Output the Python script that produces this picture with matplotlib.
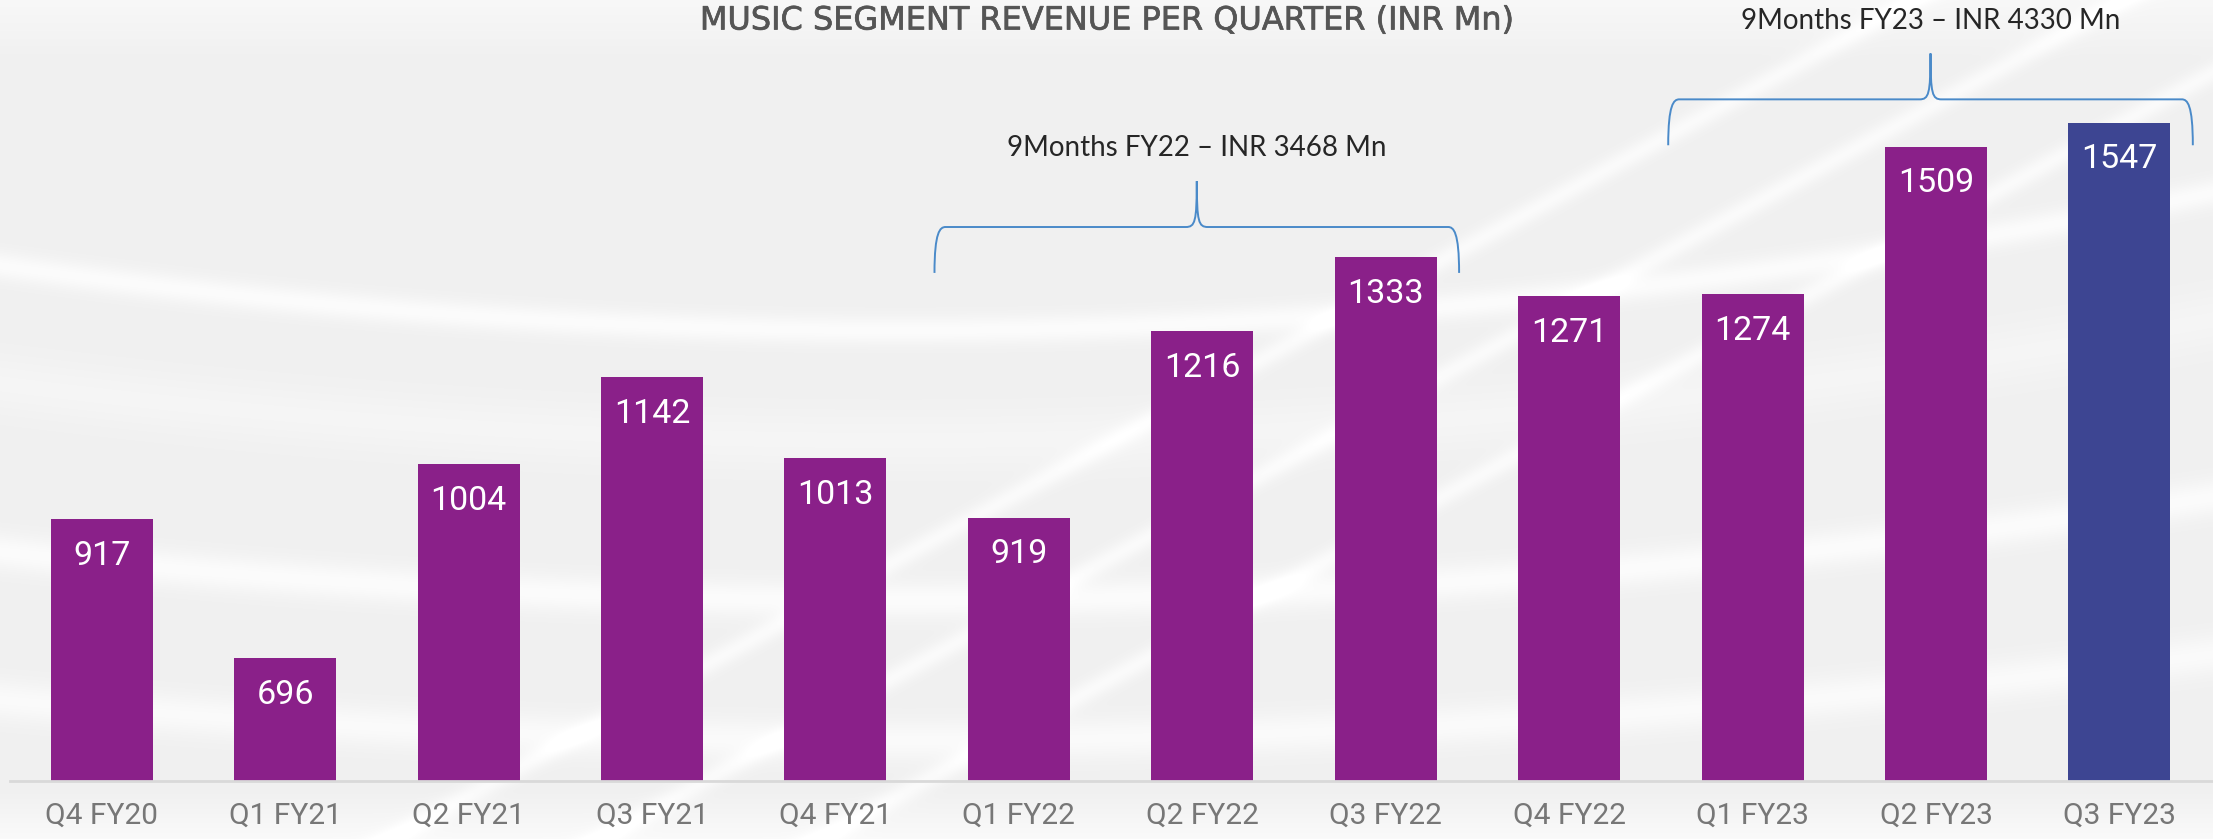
import numpy as np
import matplotlib
matplotlib.use("Agg")
import matplotlib.pyplot as plt
import matplotlib.patheffects as pe
from matplotlib.path import Path
from matplotlib.patches import PathPatch

# data
quarters = ["Q4 FY20", "Q1 FY21", "Q2 FY21", "Q3 FY21", "Q4 FY21", "Q1 FY22",
            "Q2 FY22", "Q3 FY22", "Q4 FY22", "Q1 FY23", "Q2 FY23", "Q3 FY23"]
revenue = [917, 696, 1004, 1142, 1013, 919, 1216, 1333, 1271, 1274, 1509, 1547]
brace_texts = ["9Months FY22 \u2013 INR 3468 Mn", "9Months FY23 \u2013 INR 4330 Mn"]
brace_spans = [(5, 7), (9, 11)]
title = "MUSIC SEGMENT REVENUE PER QUARTER (INR Mn)"

PURPLE = "#8a2089"
NAVY = "#3d4592"
BLUE = "#4a8ac9"

W, H = 2213, 839
fig = plt.figure(figsize=(W / 100, H / 100), dpi=100)

# background: soft light grey with blurred white swooshes (decoration only)
bg = fig.add_axes([0, 0, 1, 1], zorder=-5)
bg.axis("off")
gx, gy = np.meshgrid(np.arange(W), np.arange(H))
light = np.full((H, W), 0.942)
def band(ycurve, width, amp):
    global light
    light = light + amp * np.exp(-((gy - ycurve) / width) ** 2)
band(330 - 8e-5 * (gx - 900) ** 2, 14, 0.045)
band(600 - 6e-5 * (gx - 900) ** 2, 18, 0.045)
band(740 - 5e-5 * (gx - 900) ** 2, 20, 0.04)
band(440 - 7e-5 * (gx - 900) ** 2, 30, 0.02)
for x0 in (1550, 1760, 1980):
    band(200 - 0.55 * (gx - x0), 12, 0.04)
light = light + 0.04 * np.clip((gy - 790) / 49, 0, 1)
light = light + 0.03 * np.clip((60 - gy) / 60, 0, 1)
light = np.clip(light, 0, 1)
bg.imshow(np.dstack([light] * 3), aspect="auto", extent=(0, W, H, 0))
bg.set_xlim(0, W)
bg.set_ylim(H, 0)

# main axes
ax = fig.add_axes([10 / W, 58 / H, (W - 10) / W, (H - 58) / H])
ax.set_facecolor("none")
x = np.arange(len(quarters))
colors = [PURPLE] * (len(quarters) - 1) + [NAVY]
ax.bar(x, revenue, width=0.556, color=colors)
ax.set_xlim(-0.5, 11.51)
ax.set_ylim(500, 1742)

for xi, v in zip(x, revenue):
    ax.annotate(str(v), (xi, v), xytext=(0, -33), textcoords="offset points",
                ha="center", va="baseline", color="white", fontsize=24.5,
                family="Roboto")

for s in ["top", "right", "left"]:
    ax.spines[s].set_visible(False)
ax.spines["bottom"].set_color("#d9d9d9")
ax.spines["bottom"].set_linewidth(2)
ax.set_yticks([])
ax.set_xticks(x)
ax.set_xticklabels(quarters, fontsize=21.5, color="#777777", family="Roboto")
ax.tick_params(axis="x", length=0, pad=15)

# braces
brace_y = [(1308, 1381, 1454), (1511, 1584, 1657)]
text_y = [1506, 1708]
def brace(x0, x1, yb, yh, yt):
    xm = (x0 + x1) / 2
    c = 0.06
    verts = [(x0, yb), (x0, yh - 8), (x0 + 0.03, yh), (x0 + c, yh),
             (xm - c, yh),
             (xm - 0.01, yh), (xm, yh + 8), (xm, yt),
             (xm, yh + 8), (xm + 0.01, yh), (xm + c, yh),
             (x1 - c, yh),
             (x1 - 0.03, yh), (x1, yh - 8), (x1, yb)]
    codes = [Path.MOVETO, Path.CURVE4, Path.CURVE4, Path.CURVE4,
             Path.LINETO,
             Path.CURVE4, Path.CURVE4, Path.CURVE4,
             Path.CURVE4, Path.CURVE4, Path.CURVE4,
             Path.LINETO,
             Path.CURVE4, Path.CURVE4, Path.CURVE4]
    ax.add_patch(PathPatch(Path(verts, codes), fill=False, edgecolor=BLUE,
                           lw=1.4, clip_on=False))
    return xm

for (i0, i1), (yb, yh, yt), ty, txt in zip(brace_spans, brace_y, text_y, brace_texts):
    xm = brace(i0 - 0.46, i1 + 0.4, yb, yh, yt)
    ax.text(xm, ty, txt, ha="center", va="center", fontsize=20,
            color="#262626", family="Lato", clip_on=False)

fig.text(1107 / W, 1 - 21 / H, title, ha="center", va="center", fontsize=23,
         color="#555555", family=["Liberation Sans Narrow", "DejaVu Sans"],
         path_effects=[pe.withStroke(linewidth=0.5, foreground="#555555")])

fig.savefig("out.png", dpi=100)
